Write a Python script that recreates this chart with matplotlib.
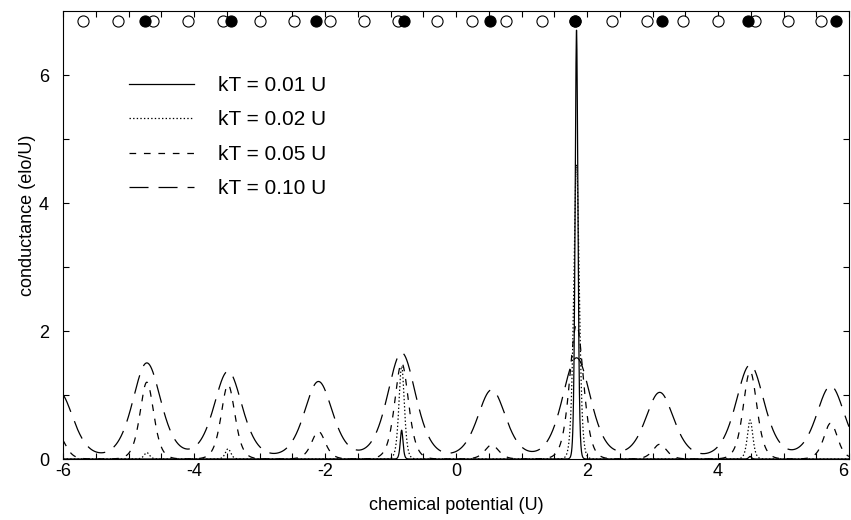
import numpy as np
import matplotlib
matplotlib.use('Agg')
import matplotlib.pyplot as plt
import matplotlib.transforms as mtransforms
from matplotlib import font_manager

names = set(f.name for f in font_manager.fontManager.ttflist)
narrow = 'Liberation Sans Narrow' if 'Liberation Sans Narrow' in names else 'Liberation Sans'
plt.rcParams['font.family'] = ['Liberation Sans', 'DejaVu Sans']
plt.rcParams['lines.scale_dashes'] = False
plt.rcParams['axes.unicode_minus'] = False

# levels (top markers)
open_lvls = [-5.69, -5.16, -4.62, -4.09, -3.55, -3.00, -2.47, -1.92, -1.40, -0.88,
             -0.29, 0.24, 0.76, 1.31, 1.82, 2.38, 2.91, 3.46, 4.00, 4.56, 5.07, 5.58]
fill_lvls = [-4.75, -3.44, -2.13, -0.79, 0.52, 1.82, 3.14, 4.46, 5.80]

# conductance peaks
peak_pos = [-6.06, -4.72, -3.48, -2.10, -0.83, 0.545, 1.84, 3.11, 4.49, 5.72]
kT_labels = ['kT = 0.01 U', 'kT = 0.02 U', 'kT = 0.05 U', 'kT = 0.10 U']
peak_h = {
    'kT = 0.01 U': [0, 0, 0, 0, 0.45, 0, 6.70, 0, 0.04, 0],
    'kT = 0.02 U': [0, 0.10, 0.16, 0, 1.45, 0, 4.60, 0, 0.61, 0],
    'kT = 0.05 U': [0.35, 1.20, 1.16, 0.43, 1.50, 0.22, 2.10, 0.23, 1.37, 0.56],
    'kT = 0.10 U': [1.05, 1.50, 1.37, 1.21, 1.66, 1.08, 1.58, 1.04, 1.47, 1.14],
}
peak_w = {'kT = 0.01 U': 0.028, 'kT = 0.02 U': 0.055, 'kT = 0.05 U': 0.14, 'kT = 0.10 U': 0.29}
styles = {'kT = 0.01 U': '-', 'kT = 0.02 U': (0, (1, 1.6)),
          'kT = 0.05 U': (0, (4.8, 5.6)), 'kT = 0.10 U': (0, (13.7, 7.2))}

mu = np.linspace(-6, 6, 6001)

fig = plt.figure(figsize=(8.51, 5.20), dpi=100)
ax = fig.add_axes([63/851, 61/520, 786/851, 448/520])

for lab in kT_labels:
    g = np.zeros_like(mu)
    for x0, h in zip(peak_pos, peak_h[lab]):
        g += h / np.cosh((mu - x0) / peak_w[lab])**2
    ax.plot(mu, g, color='black', lw=0.9, ls=styles[lab], label=lab)

ax.plot(open_lvls, [6.85]*len(open_lvls), 'o', ms=8, mfc='white', mec='black', mew=0.8)
ax.plot(fill_lvls, [6.85]*len(fill_lvls), 'o', ms=8, mfc='black', mec='black', mew=0.8)

ax.set_xlim(-6, 6)
ax.set_ylim(0, 7)
ax.set_xticks(np.arange(-6, 7, 2))
ax.set_xticks(np.arange(-6, 6.01, 0.5), minor=True)
ax.set_yticks(np.arange(0, 7, 2))
ax.set_yticks(np.arange(0, 7, 1), minor=True)
ax.tick_params(which='both', direction='in', top=True, right=True, length=4, width=0.8)
ax.tick_params(axis='x', pad=3)
ax.tick_params(axis='y', pad=10)
for t in ax.get_xticklabels() + ax.get_yticklabels():
    t.set_fontfamily(narrow)
    t.set_fontsize(13)
# keep the last x label inside the figure
last = ax.get_xticklabels()[-1]
last.set_transform(last.get_transform() + mtransforms.ScaledTranslation(-6/100, 0, fig.dpi_scale_trans))

ax.set_xlabel('chemical potential (U)', fontsize=13, family=narrow, labelpad=12)
ax.set_ylabel('conductance (elo/U)', fontsize=13, family=narrow)
ax.yaxis.set_label_coords(-0.034, 0.545)

ax.legend(loc='upper left', bbox_to_anchor=(0.084, 0.855), frameon=False, fontsize=15,
          handlelength=3.1, handletextpad=1.15, labelspacing=0.74, borderpad=0, borderaxespad=0)

plt.savefig('out.png', dpi=100)
